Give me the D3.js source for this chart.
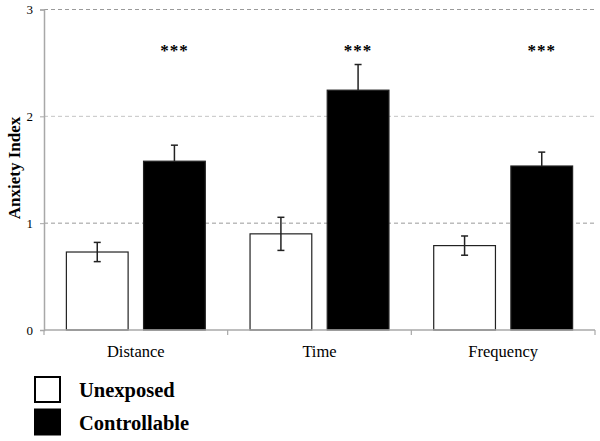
<!DOCTYPE html>
<html>
<head>
<meta charset="utf-8">
<script src="https://cdn.jsdelivr.net/npm/d3@7"></script>
<style>
  body { margin: 0; background: #fff; }
</style>
</head>
<body>
<svg id="chart"></svg>
<script>
// Data
const categories = ["Distance", "Time", "Frequency"];
const groups = ["Unexposed", "Controllable"];
const unexposedMean = [0.73, 0.90, 0.79];
const unexposedErr = [0.09, 0.155, 0.09];
const controllableMean = [1.58, 2.245, 1.535];
const controllableErr = [0.15, 0.24, 0.13];
const yTicks = [0, 1, 2, 3];
const significance = ["***", "***", "***"];

const serif = "'Liberation Serif', 'Times New Roman', serif";

const dimensions = {
    width: 600,
    height: 441,
    margin: { top: 9.5, left: 44, right: 5 },
    plotBottom: 330
};

const svg = d3.select("#chart")
    .attr("width", dimensions.width)
    .attr("height", dimensions.height);

// Scales
const xScale = d3.scaleBand()
    .domain(categories)
    .range([dimensions.margin.left, dimensions.width - dimensions.margin.right]);

const xInner = d3.scaleBand()
    .domain(groups)
    .range([0, xScale.bandwidth()])
    .paddingInner(0.2)
    .paddingOuter(0.29);

const yScale = d3.scaleLinear()
    .domain([0, 3])
    .range([dimensions.plotBottom, dimensions.margin.top]);

const fillColor = d3.scaleOrdinal()
    .domain(groups)
    .range(["#ffffff", "#000000"]);

// Gridlines (dashed)
svg.append("g")
    .selectAll("line")
    .data(yTicks.filter(d => d > 0))
    .join("line")
    .attr("x1", dimensions.margin.left)
    .attr("x2", dimensions.width - dimensions.margin.right)
    .attr("y1", d => yScale(d))
    .attr("y2", d => yScale(d))
    .attr("stroke", d => d === 2 ? "#c4c4c4" : "#9a9a9a")
    .attr("stroke-width", 1)
    .attr("stroke-dasharray", "4,3");

// Y axis
const yAxis = svg.append("g")
    .attr("transform", `translate(${dimensions.margin.left},0)`)
    .call(d3.axisLeft(yScale).tickValues(yTicks).tickSize(4).tickPadding(7).tickFormat(d3.format("d")));
yAxis.attr("font-family", null);
yAxis.select(".domain").attr("stroke", "#a8a8a8").attr("stroke-width", 1.5);
yAxis.selectAll(".tick line").attr("stroke", "#a8a8a8");
yAxis.selectAll(".tick text")
    .style("font-family", serif)
    .style("font-size", "13px")
    .attr("fill", "#000");

// Y axis label
svg.append("text")
    .attr("transform", `translate(20, 168) rotate(-90)`)
    .attr("text-anchor", "middle")
    .style("font-family", serif)
    .style("font-size", "17px")
    .style("font-weight", "bold")
    .text("Anxiety Index");

// Bars
const rows = categories.map((c, i) => ({
    category: c,
    values: [
        { group: "Unexposed", mean: unexposedMean[i], err: unexposedErr[i] },
        { group: "Controllable", mean: controllableMean[i], err: controllableErr[i] }
    ]
}));

const catGroups = svg.append("g")
    .selectAll("g")
    .data(rows)
    .join("g")
    .attr("transform", d => `translate(${xScale(d.category)},0)`);

catGroups.selectAll("rect")
    .data(d => d.values)
    .join("rect")
    .attr("x", d => xInner(d.group))
    .attr("y", d => yScale(d.mean))
    .attr("width", xInner.bandwidth())
    .attr("height", d => yScale(0) - yScale(d.mean))
    .attr("fill", d => fillColor(d.group))
    .attr("stroke", "#222")
    .attr("stroke-width", 1.2);

// Error bars: both directions for open bars, upward only for filled bars
const capHalf = 3.5;
catGroups.selectAll("g.err")
    .data(d => d.values)
    .join("g")
    .attr("class", "err")
    .each(function (d) {
        const g = d3.select(this);
        const cx = xInner(d.group) + xInner.bandwidth() / 2;
        const top = yScale(d.mean + d.err);
        const bottom = d.group === "Unexposed" ? yScale(d.mean - d.err) : yScale(d.mean);
        g.append("line")
            .attr("x1", cx).attr("x2", cx)
            .attr("y1", top).attr("y2", bottom)
            .attr("stroke", "#222").attr("stroke-width", 1.5);
        g.append("line")
            .attr("x1", cx - capHalf).attr("x2", cx + capHalf)
            .attr("y1", top).attr("y2", top)
            .attr("stroke", "#222").attr("stroke-width", 1.5);
        if (d.group === "Unexposed") {
            g.append("line")
                .attr("x1", cx - capHalf).attr("x2", cx + capHalf)
                .attr("y1", bottom).attr("y2", bottom)
                .attr("stroke", "#222").attr("stroke-width", 1.5);
        }
    });

// Significance stars over filled bars
catGroups.append("text")
    .attr("x", xInner("Controllable") + xInner.bandwidth() / 2)
    .attr("y", 56)
    .attr("text-anchor", "middle")
    .style("font-family", serif)
    .style("font-size", "17px")
    .style("font-weight", "bold")
    .style("letter-spacing", "1px")
    .text((d, i) => significance[i]);

// X axis
const xAxis = svg.append("g")
    .attr("transform", `translate(0,${dimensions.plotBottom})`);
xAxis.append("line")
    .attr("x1", dimensions.margin.left)
    .attr("x2", dimensions.width - dimensions.margin.right)
    .attr("stroke", "#a8a8a8")
    .attr("stroke-width", 1.5);
xAxis.selectAll("line.tick")
    .data(categories.map(c => xScale(c)).concat([xScale.range()[1]]))
    .join("line")
    .attr("class", "tick")
    .attr("x1", d => d).attr("x2", d => d)
    .attr("y1", 0).attr("y2", 5)
    .attr("stroke", "#a8a8a8")
    .attr("stroke-width", 1.2);
xAxis.selectAll("text")
    .data(categories)
    .join("text")
    .attr("x", d => xScale(d) + xScale.bandwidth() / 2)
    .attr("y", 27)
    .attr("text-anchor", "middle")
    .style("font-family", serif)
    .style("font-size", "16.5px")
    .text(d => d);

// Legend
const legend = svg.append("g")
    .attr("transform", "translate(35, 377)");

groups.forEach((group, i) => {
    legend.append("rect")
        .attr("x", 0)
        .attr("y", i * 32.5)
        .attr("width", 25)
        .attr("height", 25)
        .attr("fill", fillColor(group))
        .attr("stroke", "#000")
        .attr("stroke-width", 2);

    legend.append("text")
        .attr("x", 44)
        .attr("y", i * 33 + 20)
        .style("font-family", serif)
        .style("font-size", "20.5px")
        .style("font-weight", "bold")
        .text(group);
});
</script>
</body>
</html>
